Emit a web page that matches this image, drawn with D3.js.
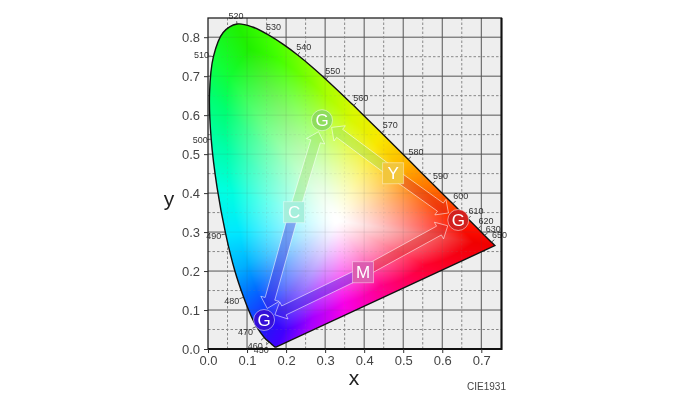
<!DOCTYPE html>
<html>
<head>
<meta charset="utf-8">
<script src="https://cdn.jsdelivr.net/npm/d3@7"></script>
<style>
html, body { margin: 0; padding: 0; background: #fff; }
#chart { position: relative; width: 700px; height: 393px; overflow: hidden; }
#chart canvas, #chart svg { position: absolute; left: 0; top: 0; }
text { font-family: "Liberation Sans", Arial, sans-serif; }
</style>
</head>
<body>
<div id="chart"></div>
<script>
// spectral locus
var locusX = [0.1741, 0.1714, 0.1644, 0.1566, 0.1440, 0.1241, 0.1096, 0.0913, 0.0687, 0.0454, 0.0235, 0.0082, 0.0039, 0.0139, 0.0389, 0.0743, 0.1142, 0.1547, 0.1929, 0.2296, 0.2658, 0.3016, 0.3373, 0.3731, 0.4087, 0.4441, 0.4788, 0.5125, 0.5448, 0.5752, 0.6029, 0.6270, 0.6658, 0.6915, 0.7079, 0.7260, 0.7347];
var locusY = [0.0050, 0.0051, 0.0109, 0.0177, 0.0297, 0.0578, 0.0868, 0.1327, 0.2007, 0.2950, 0.4127, 0.5384, 0.6548, 0.7502, 0.8120, 0.8338, 0.8262, 0.8059, 0.7816, 0.7543, 0.7243, 0.6923, 0.6589, 0.6245, 0.5896, 0.5547, 0.5202, 0.4866, 0.4544, 0.4242, 0.3965, 0.3725, 0.3340, 0.3083, 0.2920, 0.2740, 0.2653];

var waveLabels = ["450", "460", "470", "480", "490", "500", "510", "520", "530", "540", "550", "560", "570", "580", "590", "600", "610", "620", "630", "650"];
var waveX = [0.1566, 0.1440, 0.1241, 0.0913, 0.0454, 0.0082, 0.0139, 0.0743, 0.1547, 0.2296, 0.3016, 0.3731, 0.4441, 0.5125, 0.5752, 0.6270, 0.6658, 0.6915, 0.7079, 0.7260];
var waveY = [0.0177, 0.0297, 0.0578, 0.1327, 0.2950, 0.5384, 0.7502, 0.8338, 0.8059, 0.7543, 0.6923, 0.6245, 0.5547, 0.4866, 0.4242, 0.3725, 0.3340, 0.3083, 0.2920, 0.2740];
// label offset from the locus point, in px
var waveDx = [-8, -9, -11, -12, -12, -11, -12, -1, 5, 6, 7, 7, 9, 8, 8, 8, 8, 8, 9, 8];
var waveDy = [8, 8, 5, 4, 2, 1, -2, -8, -8, -8, -8, -8, -8, -7, -8, -8, -8, -8, -6, -7];

// colours seen along the edge of the gamut, going round from violet through green to red and back
var edgeX = [0.1741, 0.1440, 0.1241, 0.0913, 0.0687, 0.0454, 0.0235, 0.0082, 0.0039, 0.0139, 0.0743, 0.1547, 0.2296, 0.3016, 0.3731, 0.4441, 0.5125, 0.5752, 0.6270, 0.6915, 0.7347, 0.59, 0.46, 0.35, 0.26];
var edgeY = [0.0050, 0.0297, 0.0578, 0.1327, 0.2007, 0.2950, 0.4127, 0.5384, 0.6548, 0.7502, 0.8338, 0.8059, 0.7543, 0.6923, 0.6245, 0.5547, 0.4866, 0.4242, 0.3725, 0.3083, 0.2653, 0.198, 0.138, 0.087, 0.045];
var edgeColors = ["#4000ff", "#2a10f8", "#1a30ff", "#0070ff", "#00b0ff", "#00e8ff", "#00ffe0", "#00ffa8", "#00ff70", "#10ff38", "#20f000", "#40ff00", "#70ff00", "#a8ff00", "#d8f800", "#f8e800", "#ffb800", "#ff7800", "#ff4800", "#ff1000", "#f00000", "#ff0030", "#ff0088", "#f800e8", "#a800ff"];
var whiteX = 0.33, whiteY = 0.33;

var xTicks = [0, 0.1, 0.2, 0.3, 0.4, 0.5, 0.6, 0.7];
var yTicks = [0, 0.1, 0.2, 0.3, 0.4, 0.5, 0.6, 0.7, 0.8];
var xMinor = [0.05, 0.15, 0.25, 0.35, 0.45, 0.55, 0.65];
var yMinor = [0.05, 0.15, 0.25, 0.35, 0.45, 0.55, 0.65, 0.75];

var nodeNames = ["G", "C", "G", "Y", "G", "M"];
var nodeX = [0.292, 0.2205, 0.1436, 0.474, 0.641, 0.397];
var nodeY = [0.587, 0.351, 0.0744, 0.451, 0.331, 0.197];
var nodeColors = ["#8edd5c", "#a5efdc", "#3510d8", "#f2c63c", "#d3201e", "#dc5cb0"];
var arrowFrom = [1, 1, 3, 3, 5, 5];
var arrowTo = [0, 2, 0, 4, 4, 2];

var width = 700, height = 393;
var plotRight = 501.5, plotTop = 18, plotBottom = 349;

var x = d3.scaleLinear().domain([0, 0.7]).range([208, 481.3]);
var y = d3.scaleLinear().domain([0, 0.8]).range([349, 37.2]);

var chart = d3.select("#chart");
var locus = d3.range(locusX.length).map(function (i) { return [x(locusX[i]), y(locusY[i])]; });
var locusPath = d3.line().curve(d3.curveCatmullRom.alpha(0.5))(locus) + "Z";

// angle round the white point to edge colour and edge distance
function angleOf(cx, cy) {
    var a = Math.atan2(cy - whiteY, cx - whiteX);
    return a < -Math.PI / 2 - 0.45 ? a + 2 * Math.PI : a;
}

var anchors = d3.range(edgeX.length).map(function (i) {
    return { angle: angleOf(edgeX[i], edgeY[i]), r: Math.hypot(edgeX[i] - whiteX, edgeY[i] - whiteY), color: d3.rgb(edgeColors[i]) };
}).sort(function (a, b) { return a.angle - b.angle; });
var angleIndex = d3.bisector(function (d) { return d.angle; });

function edgeAt(a) {
    var n = anchors.length;
    var hi = angleIndex.left(anchors, a);
    var p = hi === 0 ? anchors[n - 1] : anchors[hi - 1];
    var q = hi === n ? anchors[0] : anchors[hi];
    var pa = hi === 0 ? p.angle - 2 * Math.PI : p.angle;
    var qa = hi === n ? q.angle + 2 * Math.PI : q.angle;
    var t = (a - pa) / (qa - pa);
    return {
        r: p.r + (q.r - p.r) * t,
        c: [p.color.r + (q.color.r - p.color.r) * t, p.color.g + (q.color.g - p.color.g) * t, p.color.b + (q.color.b - p.color.b) * t]
    };
}

function drawGamut() {
    var off = document.createElement("canvas");
    off.width = width; off.height = height;
    var octx = off.getContext("2d");
    var img = octx.createImageData(width, height);
    for (var py = 15; py < 352; py++) {
        for (var px = 205; px < 500; px++) {
            var cx = x.invert(px + 0.5), cy = y.invert(py + 0.5);
            var edge = edgeAt(angleOf(cx, cy));
            var r = Math.hypot(cx - whiteX, cy - whiteY) / edge.r;
            var s = Math.max(0, Math.min(1, (r - 0.02) / 0.85));
            s = Math.pow(s, 1.25);
            var k = (py * width + px) * 4;
            img.data[k] = 255 + (edge.c[0] - 255) * s;
            img.data[k + 1] = 255 + (edge.c[1] - 255) * s;
            img.data[k + 2] = 255 + (edge.c[2] - 255) * s;
            img.data[k + 3] = 255;
        }
    }
    octx.putImageData(img, 0, 0);

    var canvas = chart.append("canvas").attr("width", width).attr("height", height);
    var ctx = canvas.node().getContext("2d");
    ctx.fillStyle = "#fff";
    ctx.fillRect(0, 0, width, height);
    ctx.fillStyle = "#eeeeee";
    ctx.fillRect(x(0), plotTop, plotRight - x(0), plotBottom - plotTop);
    ctx.save();
    ctx.clip(new Path2D(locusPath));
    ctx.drawImage(off, 0, 0);
    ctx.restore();
}

drawGamut();

var svg = chart.append("svg").attr("width", width).attr("height", height);

svg.append("clipPath").attr("id", "gamut").append("path").attr("d", locusPath);

function drawGrid(g, opacity) {
    g.selectAll("line.vmajor").data(xTicks.slice(1)).enter().append("line")
        .attr("class", "vmajor")
        .attr("x1", x).attr("x2", x).attr("y1", plotTop).attr("y2", plotBottom)
        .attr("stroke", "#555").attr("opacity", opacity);
    g.selectAll("line.hmajor").data(yTicks.slice(1)).enter().append("line")
        .attr("class", "hmajor")
        .attr("y1", y).attr("y2", y).attr("x1", x(0)).attr("x2", plotRight)
        .attr("stroke", "#555").attr("opacity", opacity);
    g.selectAll("line.vminor").data(xMinor).enter().append("line")
        .attr("class", "vminor")
        .attr("x1", x).attr("x2", x).attr("y1", plotTop).attr("y2", plotBottom)
        .attr("stroke", "#888").attr("stroke-dasharray", "2.5,2").attr("opacity", opacity);
    g.selectAll("line.hminor").data(yMinor).enter().append("line")
        .attr("class", "hminor")
        .attr("y1", y).attr("y2", y).attr("x1", x(0)).attr("x2", plotRight)
        .attr("stroke", "#888").attr("stroke-dasharray", "2.5,2").attr("opacity", opacity);
}

// grid shows hard on the grey, only faintly through the colours
var mask = svg.append("mask").attr("id", "notGamut").attr("maskUnits", "userSpaceOnUse")
    .attr("x", 0).attr("y", 0).attr("width", width).attr("height", height);
mask.append("rect").attr("width", width).attr("height", height).attr("fill", "#fff");
mask.append("path").attr("d", locusPath).attr("fill", "#000");

var gridOut = svg.append("g").attr("mask", "url(#notGamut)");
drawGrid(gridOut, 1);
var gridIn = svg.append("g").attr("clip-path", "url(#gamut)");
drawGrid(gridIn, 0.12);

svg.append("path").attr("d", locusPath)
    .attr("fill", "none").attr("stroke", "#111").attr("stroke-width", 1.4);

// wavelength ticks and labels
var waves = svg.append("g");
waves.selectAll("line").data(waveLabels).enter().append("line")
    .attr("x1", function (d, i) { return x(waveX[i]); })
    .attr("y1", function (d, i) { return y(waveY[i]); })
    .attr("x2", function (d, i) { return x(waveX[i]) + waveDx[i] * 0.35; })
    .attr("y2", function (d, i) { return y(waveY[i]) + waveDy[i] * 0.35; })
    .attr("stroke", "#333").attr("stroke-width", 0.8);
waves.selectAll("text").data(waveLabels).enter().append("text")
    .attr("x", function (d, i) { return x(waveX[i]) + waveDx[i]; })
    .attr("y", function (d, i) { return y(waveY[i]) + waveDy[i]; })
    .attr("text-anchor", "middle")
    .attr("dy", "0.35em")
    .attr("font-size", 9).attr("fill", "#333")
    .text(function (d) { return d; });

// frame, heavier on the bottom and right
svg.append("rect").attr("x", x(0)).attr("y", plotTop)
    .attr("width", plotRight - x(0)).attr("height", plotBottom - plotTop)
    .attr("fill", "none").attr("stroke", "#222").attr("stroke-width", 1.3);
svg.append("path").attr("d", d3.line()([[x(0), plotBottom], [plotRight, plotBottom], [plotRight, plotTop]]))
    .attr("fill", "none").attr("stroke", "#111").attr("stroke-width", 2);

var xAxis = d3.axisBottom(x).tickValues(xTicks).tickFormat(d3.format(".1f")).tickSize(4).tickPadding(3);
var yAxis = d3.axisLeft(y).tickValues(yTicks).tickFormat(d3.format(".1f")).tickSize(4).tickPadding(4);

[svg.append("g").attr("transform", "translate(0," + plotBottom + ")").call(xAxis),
 svg.append("g").attr("transform", "translate(" + x(0) + ",0)").call(yAxis)].forEach(function (a) {
    a.select(".domain").remove();
    a.selectAll("line").attr("stroke", "#333");
    a.selectAll("text").attr("font-size", 13).attr("fill", "#444")
        .style("font-family", '"Liberation Sans", Arial, sans-serif');
});

svg.append("text").attr("x", 354).attr("y", 385).attr("text-anchor", "middle")
    .attr("font-size", 21).attr("fill", "#222").text("x");
svg.append("text").attr("x", 169).attr("y", 206).attr("text-anchor", "middle")
    .attr("font-size", 21).attr("fill", "#222").text("y");
svg.append("text").attr("x", 506).attr("y", 390).attr("text-anchor", "end")
    .attr("font-size", 10).attr("fill", "#444").text("CIE1931");

// arrows run from a square out to a circle
function arrowPath(i) {
    var a = arrowFrom[i], b = arrowTo[i];
    var x0 = x(nodeX[a]), y0 = y(nodeY[a]), x1 = x(nodeX[b]), y1 = y(nodeY[b]);
    var len = Math.hypot(x1 - x0, y1 - y0);
    var ux = (x1 - x0) / len, uy = (y1 - y0) / len, nx = -uy, ny = ux;
    var tip = len - 12, neck = tip - 10, w = 5, h = 9.5;
    function p(along, across) {
        return [x0 + ux * along + nx * across, y0 + uy * along + ny * across];
    }
    return d3.line()([p(0, -w), p(neck, -w), p(neck, -h), p(tip, 0), p(neck, h), p(neck, w), p(0, w)]) + "Z";
}

svg.append("g").selectAll("path").data(arrowTo).enter().append("path")
    .attr("d", function (d, i) { return arrowPath(i); })
    .attr("fill", function (d) { return nodeColors[d]; })
    .attr("fill-opacity", 0.35)
    .attr("stroke", "#fff").attr("stroke-opacity", 0.7).attr("stroke-width", 0.8);

var nodes = svg.append("g").selectAll("g").data(d3.range(nodeNames.length)).enter().append("g")
    .attr("transform", function (d) { return "translate(" + x(nodeX[d]) + "," + y(nodeY[d]) + ")"; });

nodes.filter(function (d) { return nodeNames[d] === "G"; }).append("circle")
    .attr("r", 10.5)
    .attr("fill", function (d) { return nodeColors[d]; })
    .attr("stroke", "#fff").attr("stroke-opacity", 0.5);

nodes.filter(function (d) { return nodeNames[d] !== "G"; }).append("rect")
    .attr("x", -10.5).attr("y", -10.5).attr("width", 21).attr("height", 21)
    .attr("fill", function (d) { return nodeColors[d]; })
    .attr("stroke", "#fff").attr("stroke-opacity", 0.4);

nodes.append("text").attr("text-anchor", "middle").attr("dy", "0.36em")
    .attr("font-size", 17).attr("fill", "#fff")
    .text(function (d) { return nodeNames[d]; });
</script>
</body>
</html>
